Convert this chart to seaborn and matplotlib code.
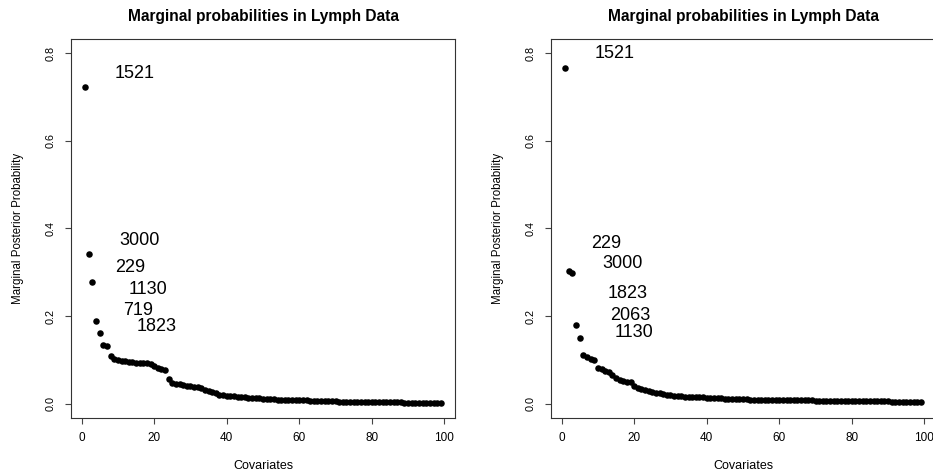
import matplotlib
matplotlib.use("Agg")
import matplotlib.pyplot as plt
import seaborn as sns
import numpy as np
import pandas as pd

# Marginal posterior inclusion probabilities of the top 99 covariates (sorted)
probs_left = [
    0.722, 0.342, 0.278, 0.189, 0.161, 0.134, 0.132, 0.110, 0.102, 0.100,
    0.099, 0.098, 0.096, 0.095, 0.094, 0.093, 0.093, 0.093, 0.090, 0.087,
    0.083, 0.080, 0.078, 0.057, 0.047, 0.046, 0.045, 0.044, 0.042, 0.040,
    0.039, 0.038, 0.036, 0.032, 0.030, 0.027, 0.024, 0.021, 0.020, 0.019,
    0.018, 0.018, 0.017, 0.016, 0.015, 0.014, 0.014, 0.013, 0.013, 0.012,
    0.012, 0.011, 0.011, 0.010, 0.010, 0.010, 0.009, 0.009, 0.009, 0.008,
    0.008, 0.008, 0.007, 0.007, 0.007, 0.006, 0.006, 0.006, 0.006, 0.006,
    0.005, 0.005, 0.005, 0.005, 0.005, 0.005, 0.005, 0.004, 0.004, 0.004,
    0.004, 0.004, 0.004, 0.004, 0.004, 0.004, 0.004, 0.004, 0.003, 0.003,
    0.003, 0.003, 0.003, 0.002, 0.002, 0.002, 0.002, 0.002, 0.002,
]
probs_right = [
    0.767, 0.304, 0.299, 0.181, 0.150, 0.112, 0.106, 0.102, 0.101, 0.082,
    0.079, 0.076, 0.072, 0.066, 0.060, 0.054, 0.052, 0.051, 0.050, 0.041,
    0.037, 0.034, 0.032, 0.030, 0.028, 0.026, 0.024, 0.022, 0.021, 0.020,
    0.019, 0.018, 0.018, 0.017, 0.016, 0.016, 0.015, 0.015, 0.015, 0.014,
    0.014, 0.013, 0.013, 0.013, 0.012, 0.012, 0.012, 0.011, 0.011, 0.011,
    0.011, 0.010, 0.010, 0.010, 0.010, 0.010, 0.009, 0.009, 0.009, 0.009,
    0.009, 0.009, 0.008, 0.008, 0.008, 0.008, 0.008, 0.008, 0.008, 0.007,
    0.007, 0.007, 0.007, 0.007, 0.007, 0.007, 0.007, 0.007, 0.007, 0.007,
    0.006, 0.006, 0.006, 0.006, 0.006, 0.006, 0.006, 0.006, 0.006, 0.006,
    0.005, 0.005, 0.005, 0.005, 0.004, 0.004, 0.004, 0.004, 0.004,
]

# Gene ids of the leading covariates and where their labels are written
labels_left = ["1521", "3000", "229", "1130", "719", "1823"]
label_x_left = [14.7, 16.1, 13.3, 18.3, 15.5, 20.8]
label_y_left = [0.754, 0.372, 0.310, 0.260, 0.212, 0.176]

labels_right = ["1521", "229", "3000", "1823", "2063", "1130"]
label_x_right = [14.7, 12.4, 16.8, 18.1, 18.9, 20.0]
label_y_right = [0.798, 0.366, 0.321, 0.252, 0.201, 0.163]

x_ticks = [0, 20, 40, 60, 80, 100]
y_ticks = [0.0, 0.2, 0.4, 0.6, 0.8]

sns.set_style("white")
plt.rcParams["font.family"] = ["Liberation Sans", "DejaVu Sans"]
plt.rcParams["text.color"] = "black"
plt.rcParams["axes.labelcolor"] = "black"
plt.rcParams["xtick.color"] = "black"
plt.rcParams["ytick.color"] = "black"

W, H = 933, 475
fig = plt.figure(figsize=(W / 100, H / 100), dpi=100)

panels = [
    (71, probs_left, labels_left, label_x_left, label_y_left),
    (551, probs_right, labels_right, label_x_right, label_y_right),
]

for left_px, probs, labs, lx, ly in panels:
    ax = fig.add_axes([left_px / W, (H - 418) / H, 384 / W, 379 / H])
    df = pd.DataFrame({"Covariates": np.arange(1, len(probs) + 1), "prob": probs})
    sns.scatterplot(data=df, x="Covariates", y="prob", ax=ax, color="black",
                    s=22, linewidth=0, edgecolor="black")
    for t, x, y in zip(labs, lx, ly):
        ax.text(x, y, t, ha="center", va="center", fontsize=13, color="black")

    n = len(probs)
    pad_x = (n - 1) * 0.04
    ax.set_xlim(1 - pad_x, n + pad_x)
    ax.set_ylim(-0.032, 0.832)
    ax.set_xticks(x_ticks)
    ax.set_yticks(y_ticks)
    ax.set_xticklabels([str(v) for v in x_ticks], fontsize=8.5)
    ax.set_yticklabels([f"{v:.1f}" for v in y_ticks], fontsize=7.8,
                       rotation=90, va="center")
    ax.tick_params(axis="both", direction="out", length=4.3, width=0.8,
                   color="#444444", bottom=True, left=True)
    ax.tick_params(axis="x", pad=5.5)
    ax.tick_params(axis="y", pad=7)
    for sp in ax.spines.values():
        sp.set_visible(True)
        sp.set_color("#333333")
        sp.set_linewidth(0.8)
    ax.set_xlabel("Covariates", fontsize=9, labelpad=12)
    ax.set_ylabel("Marginal Posterior Probability", fontsize=8.3, labelpad=15)
    ax.set_title("Marginal probabilities in Lymph Data", fontsize=11.2,
                 fontweight="bold", pad=13)

fig.savefig("out.png", dpi=100)
